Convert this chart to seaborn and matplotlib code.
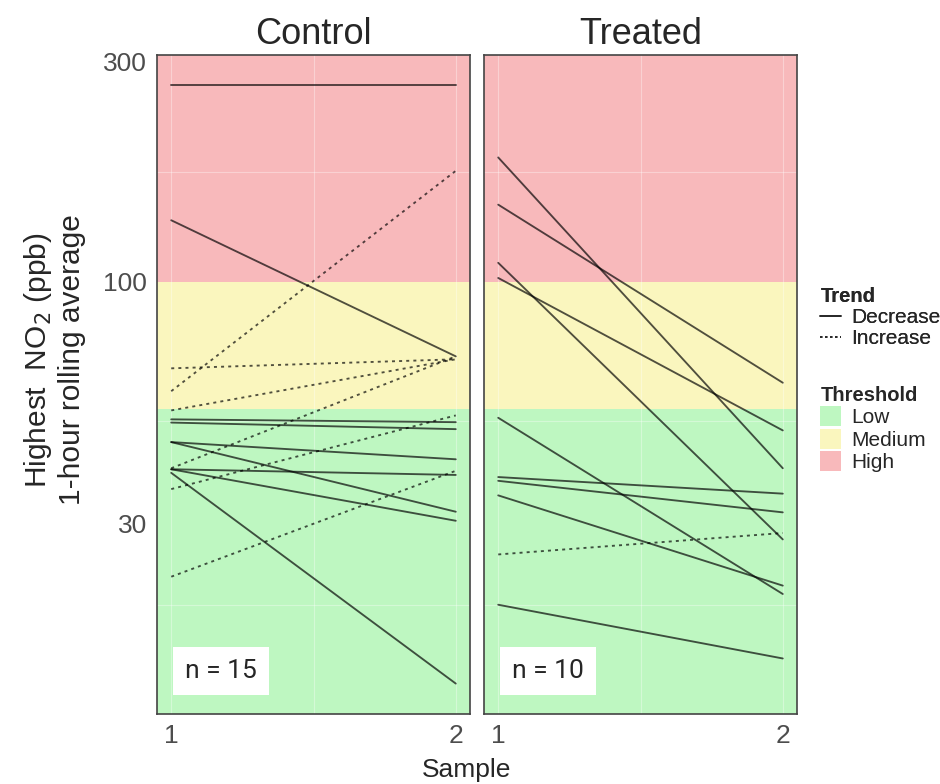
import numpy as np
import pandas as pd
import seaborn as sns
import matplotlib.pyplot as plt
from matplotlib.lines import Line2D
from matplotlib.patches import Patch
from matplotlib.ticker import NullLocator

# values (ppb, log scale)
groups = ["Control", "Treated"]
control_s1 = [267, 136, 58, 65, 52.7, 39.5, 35.6, 23, 50.4, 49.6, 45, 45, 39.3, 39.3, 38.6]
control_s2 = [267, 69, 174, 68, 68, 69, 51.4, 39, 49.7, 48, 41.3, 31.8, 38.2, 30.4, 13.5]
treated_s1 = [186, 147, 110, 102, 50.8, 37.8, 37.1, 34.5, 25.7, 20]
treated_s2 = [39.5, 60.5, 27.7, 47.7, 21.1, 34.8, 31.7, 22, 28.6, 15.3]
samples = [1, 2]
thresholds = [53, 100]
threshold_names = ["Low", "Medium", "High"]
threshold_colors = ["#BEF7C1", "#FAF6BE", "#F8B9BB"]
trend_names = ["Decrease", "Increase"]
y_ticks = [30, 100, 300]
y_lim = (11.6, 310)

rows = []
for grp, s1, s2 in [("Control", control_s1, control_s2), ("Treated", treated_s1, treated_s2)]:
    for i, (a, b) in enumerate(zip(s1, s2)):
        trend = "Increase" if b > a else "Decrease"
        rows.append((grp, i, samples[0], a, trend))
        rows.append((grp, i, samples[1], b, trend))
df = pd.DataFrame(rows, columns=["group", "id", "Sample", "NO2", "Trend"])

sns.set_style("white")
plt.rcParams["font.family"] = ["Liberation Sans", "DejaVu Sans"]

fig = plt.figure(figsize=(9.4, 7.84), dpi=100)
W, H = 940, 784
panels = [(157, 55, 313, 659), (484, 55, 313, 659)]

bounds = [y_lim[0]] + thresholds + [y_lim[1]]
for k, (grp, (px, py, pw, ph)) in enumerate(zip(groups, panels)):
    ax = fig.add_axes([px / W, 1 - (py + ph) / H, pw / W, ph / H])
    for lo, hi, col in zip(bounds[:-1], bounds[1:], threshold_colors):
        ax.axhspan(lo, hi, color=col, zorder=0, lw=0)
    sub = df[df.group == grp]
    sns.lineplot(data=sub, x="Sample", y="NO2", units="id", estimator=None,
                 style="Trend", style_order=trend_names,
                 dashes={"Decrease": "", "Increase": (1.6, 2.2)},
                 color="black", alpha=0.68, lw=1.35, legend=False, ax=ax)
    ax.set_yscale("log")
    ax.set_ylim(*y_lim)
    ax.set_xlim(0.95, 2.05)
    ax.yaxis.set_minor_locator(NullLocator())
    # faint grid showing through the bands
    for gy in [20, 50, 173]:
        ax.axhline(gy, color="white", lw=0.8, alpha=0.35, zorder=1)
    for gx in [1, 1.5, 2]:
        ax.axvline(gx, color="white", lw=0.8, alpha=0.35, zorder=1)
    ax.set_xticks(samples)
    ax.set_xticklabels([str(s) for s in samples], fontsize=19, color="#4D4D4D")
    ax.set_yticks(y_ticks)
    if k == 0:
        ax.set_yticklabels([str(t) for t in y_ticks], fontsize=19, color="#4D4D4D")
        ax.tick_params(axis="y", length=3, color="#888888", pad=4)
    else:
        ax.set_yticklabels([])
        ax.tick_params(axis="y", length=0)
    ax.tick_params(axis="x", length=3, color="#888888", pad=4)
    ax.set_xlabel("")
    ax.set_ylabel("")
    for sp in ax.spines.values():
        sp.set_color("#444444")
        sp.set_linewidth(1.2)
    ax.set_title(grp, fontsize=26, pad=8)
    n = sub["id"].nunique()
    ax.text(0.09, 0.065, f"n = {n}", transform=ax.transAxes, fontsize=19,
            family=["Roboto", "DejaVu Sans"], ha="left", va="center",
            bbox=dict(boxstyle="square,pad=0.45", fc="white", ec="none"))

fig.text(467 / W, 1 - 770 / H, "Sample", fontsize=19, ha="center", va="center")
fig.text(54 / W, 1 - 360 / H, "Highest  NO$_2$ (ppb)\n1-hour rolling average",
         fontsize=21.5, rotation=90, ha="center", va="center", linespacing=1.15)

trend_handles = [Line2D([0], [0], color="black", alpha=0.7, lw=1.2, ls="-"),
                 Line2D([0], [0], color="black", alpha=0.7, lw=1.2, dashes=(1.5, 1.5))]
leg1 = fig.legend(trend_handles, trend_names, title="Trend", loc="upper left",
                  bbox_to_anchor=(812 / W, 1 - 279 / H), frameon=False,
                  fontsize=15, title_fontproperties={"weight": "bold", "size": 14.5},
                  handlelength=1.0, handletextpad=0.5, labelspacing=0.1,
                  alignment="left", borderaxespad=0)
thr_handles = [Patch(facecolor=c, edgecolor="none") for c in threshold_colors]
leg2 = fig.legend(thr_handles, threshold_names, title="Threshold", loc="upper left",
                  bbox_to_anchor=(812 / W, 1 - 378 / H), frameon=False,
                  fontsize=15, title_fontproperties={"weight": "bold", "size": 14.5},
                  handlelength=1.0, handleheight=1.1, handletextpad=0.5,
                  labelspacing=0.05, alignment="left", borderaxespad=0)
fig.add_artist(leg1)

fig.savefig("out.png", dpi=100, facecolor="white")
